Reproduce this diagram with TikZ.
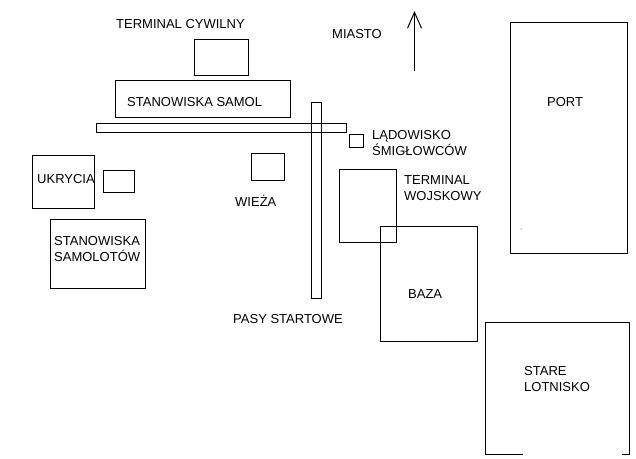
\documentclass[tikz,border=0pt]{standalone}
\usepackage{fontspec}
\setmainfont{Liberation Sans}
\usetikzlibrary{arrows.meta}
\tikzset{
    plot/.style={draw=black, line width=1pt},
    lbl/.style={anchor=base west, inner sep=0pt, align=left, font=\fontsize{13}{16}\selectfont}
}
\begin{document}
\begin{tikzpicture}[x=1pt,y=-1pt]
    \useasboundingbox (0,0) rectangle (636,458);

    % Airfield buildings and aprons
    \draw[plot] (194.5,39.5) rectangle (248.5,75.5);
    \draw[plot] (115.5,80.5) rectangle (290.5,117.5);
    \draw[plot] (32.5,155.5) rectangle (94.5,208.5);
    \draw[plot] (103.5,170.5) rectangle (134.5,192.5);
    \draw[plot] (251.5,153.5) rectangle (284.5,180.5);
    \draw[plot] (50.5,219.5) rectangle (145.5,288.5);
    \draw[plot] (349.5,134.5) rectangle (363.5,147.5);

    % Runways
    \draw[plot] (96.5,123.5) rectangle (346.5,132.5);
    \draw[plot] (311.5,102.5) rectangle (321.5,298.5);

    % Base area
    \draw[plot] (339.5,169.5) rectangle (396.5,242.5);
    \draw[plot] (380.5,226.5) rectangle (477.5,341.5);
    \draw[plot] (510.5,22.5) rectangle (627.5,253.5);
    \fill (521,229) circle (0.5);

    % Old airfield, bottom edge is broken
    \draw[plot] (523,454.5) -- (485.5,454.5) -- (485.5,322.5) -- (629.5,322.5) -- (629.5,454.5) -- (622,454.5);

    % North arrow
    \coordinate (tail) at (414.5,70.5);
    \coordinate (tip) at (414.5,11);
    \draw[plot, -{Straight Barb[length=16pt,width=14pt]}] (tail) -- (tip);

    % Labels
    \node[lbl] (cywilny) at (116,28) {TERMINAL CYWILNY};
    \node[lbl] (miasto) at (332,38.5) {MIASTO};
    \node[lbl] (samol) at (127,106.5) {STANOWISKA SAMOL};
    \node[lbl] (ladowisko) at (372,139) {LĄDOWISKO};
    \node[lbl] (smiglowce) at (372,155) {ŚMIGŁOWCÓW};
    \node[lbl] (terminal) at (404,184) {TERMINAL};
    \node[lbl] (wojskowy) at (404,200) {WOJSKOWY};
    \node[lbl] (port) at (547,106.5) {PORT};
    \node[lbl] (ukrycia) at (37,183.5) {UKRYCIA};
    \node[lbl] (wieza) at (235,206.5) {WIEŻA};
    \node[lbl] (stanowiska) at (54,245) {STANOWISKA};
    \node[lbl] (samolotow) at (54,261) {SAMOLOTÓW};
    \node[lbl] (pasy) at (233,323) {PASY STARTOWE};
    \node[lbl] (baza) at (408,298.5) {BAZA};
    \node[lbl] (stare) at (524,375) {STARE};
    \node[lbl] (lotnisko) at (524,391) {LOTNISKO};
\end{tikzpicture}
\end{document}
